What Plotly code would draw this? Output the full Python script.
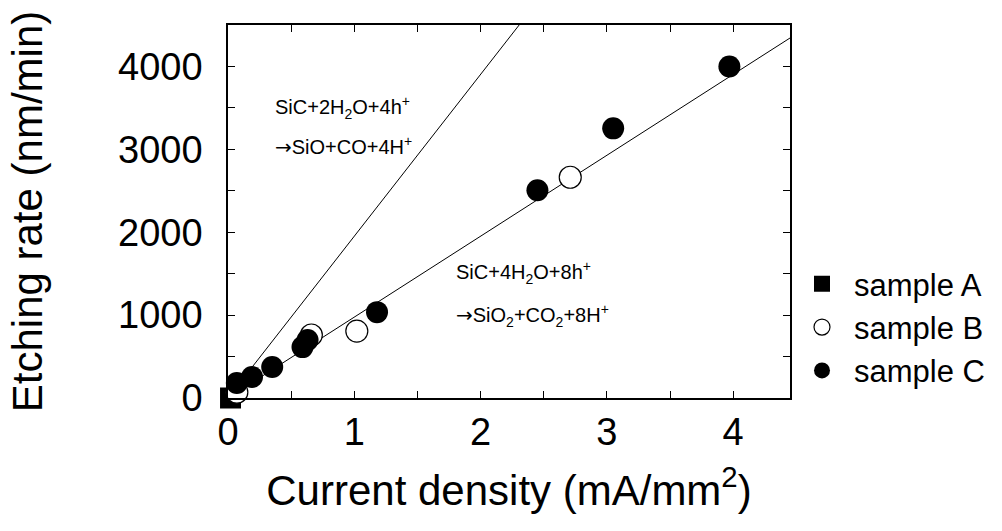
import plotly.graph_objects as go

# ---- data ----
a_x = [0.02]
a_y = [0]
b_x = [0.07, 0.66, 1.02, 2.71]
b_y = [70, 760, 807, 2663]
c_x = [0.07, 0.19, 0.35, 0.59, 0.63, 1.18, 2.45, 3.05, 3.97]
c_y = [180, 253, 373, 614, 700, 1036, 2506, 3253, 4000]
slope_4h = 1952   # nm/min per mA/mm2, SiC+2H2O+4h+
slope_8h = 976    # SiC+4H2O+8h+
line_x = [0, 4.45]

x_ticks = [0, 1, 2, 3, 4]
y_ticks = [0, 1000, 2000, 3000, 4000]

FONT = "Liberation Sans, Arial, sans-serif"

fig = go.Figure()
fig.add_trace(go.Scatter(x=line_x, y=[slope_4h * v for v in line_x], mode="lines",
                         line=dict(color="black", width=1), showlegend=False, hoverinfo="skip"))
fig.add_trace(go.Scatter(x=line_x, y=[slope_8h * v for v in line_x], mode="lines",
                         line=dict(color="black", width=1), showlegend=False, hoverinfo="skip"))
fig.add_trace(go.Scatter(x=a_x, y=a_y, mode="markers", name="sample A", cliponaxis=False,
                         marker=dict(symbol="square", size=21, color="black",
                                     line=dict(color="black", width=0))))
fig.add_trace(go.Scatter(x=b_x, y=b_y, mode="markers", name="sample B", cliponaxis=False,
                         marker=dict(symbol="circle", size=22, color="white",
                                     line=dict(color="black", width=1.2))))
fig.add_trace(go.Scatter(x=c_x, y=c_y, mode="markers", name="sample C", cliponaxis=False,
                         marker=dict(symbol="circle", size=22, color="black",
                                     line=dict(color="black", width=0))))

ann_font = dict(family=FONT, size=20, color="black")
anns = [
    (0.36, 3510, "SiC+2H<sub>2</sub>O+4h<sup>+</sup>"),
    (0.36, 3040, "<span style='font-family:DejaVu Sans'>→</span>SiO+CO+4H<sup>+</sup>"),
    (1.79, 1515, "SiC+4H<sub>2</sub>O+8h<sup>+</sup>"),
    (1.79, 1000, "<span style='font-family:DejaVu Sans'>→</span>SiO<sub>2</sub>+CO<sub>2</sub>+8H<sup>+</sup>"),
]
for ax_, ay_, t in anns:
    fig.add_annotation(x=ax_, y=ay_, text=t, showarrow=False, xanchor="left",
                       yanchor="middle", font=ann_font)

axis_common = dict(showgrid=False, zeroline=False, showline=True, linecolor="black",
                   linewidth=1.5, mirror="ticks", ticks="inside", ticklen=7,
                   tickcolor="black", tickwidth=1,
                   tickfont=dict(family=FONT, size=38, color="black"))
fig.update_xaxes(range=[0, 4.45], tickvals=x_ticks, ticktext=[str(v) for v in x_ticks],
                 minor=dict(dtick=0.5, tick0=0, ticks="inside", ticklen=7,
                            tickcolor="black", tickwidth=1),
                 title=dict(text="Current density (mA/mm<sup>2</sup>)",
                            font=dict(family=FONT, size=42, color="black"), standoff=23),
                 **axis_common)
fig.update_yaxes(range=[0, 4500], tickvals=y_ticks, ticktext=[str(v) for v in y_ticks],
                 ticklabelstandoff=16,
                 minor=dict(dtick=500, tick0=0, ticks="inside", ticklen=7,
                            tickcolor="black", tickwidth=1),
                 title=dict(text="Etching rate (nm/min)",
                            font=dict(family=FONT, size=42, color="black"), standoff=62),
                 **axis_common)

fig.update_layout(
    width=1002, height=531,
    margin=dict(l=228, r=212, t=25, b=133, autoexpand=False),
    plot_bgcolor="white", paper_bgcolor="white",
    showlegend=True,
    legend=dict(x=1.0, y=0.19, xanchor="left", yanchor="middle",
                font=dict(family=FONT, size=31, color="black"),
                bgcolor="rgba(0,0,0,0)", tracegroupgap=0, itemwidth=54),
)

fig.write_html("out.html")
